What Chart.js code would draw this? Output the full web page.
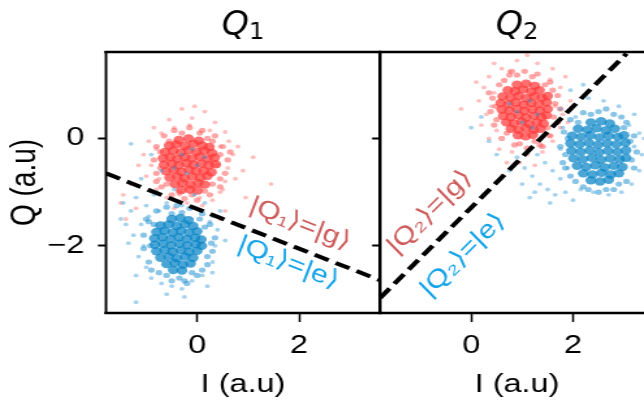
<!DOCTYPE html>
<html lang="en">
<head>
<meta charset="UTF-8">
<title>IQ readout</title>
<script src="https://cdn.jsdelivr.net/npm/chart.js"></script>
<style>
  html, body { margin: 0; padding: 0; background: #fff; overflow: hidden; }
  #wrap { position: relative; width: 644px; height: 402px; overflow: hidden; }
  /* the reference figure is stretched sideways, so the canvases are too */
  .panel { position: absolute; top: 0; transform: scaleX(1.3); transform-origin: 0 0; }
  #p1 { left: 0; }
  #p2 { left: 367px; }
</style>
</head>
<body>
<div id="wrap">
  <div class="panel" id="p1"><canvas id="q1" width="300" height="402"></canvas></div>
  <div class="panel" id="p2"><canvas id="q2" width="226" height="402"></canvas></div>
</div>
<script>
var S = 1.3; // horizontal stretch of the canvases (same as the css)

// shared axes
var xRange = [-1.79, 3.59];
var yRange = [-3.25, 1.61];
var xTicks = [0, 2];
var yTicks = [-2, 0];
var stateNames = ['g', 'e'];

// ---- Q1 panel ----
var q1Boundary = [[-1.79, -0.65], [3.59, -2.64]];
var q1LabelPos = [[2.02, -1.59], [1.79, -2.32]];
var q1GroundCore = [
  [-0.36,-0.03],[-0.17,0.0],[0.03,-0.04],
  [-0.55,-0.13],[-0.41,-0.11],[-0.24,-0.14],[-0.07,-0.1],[0.1,-0.13],[0.24,-0.16],
  [-0.63,-0.25],[-0.47,-0.23],[-0.32,-0.26],[-0.17,-0.22],[-0.01,-0.25],[0.14,-0.23],[0.29,-0.27],
  [-0.67,-0.37],[-0.53,-0.35],[-0.39,-0.38],[-0.24,-0.35],[-0.1,-0.37],[0.05,-0.34],[0.2,-0.38],[0.34,-0.36],
  [-0.65,-0.49],[-0.5,-0.47],[-0.36,-0.5],[-0.21,-0.46],[-0.07,-0.49],[0.08,-0.47],[0.23,-0.5],[0.36,-0.48],
  [-0.61,-0.61],[-0.46,-0.59],[-0.31,-0.62],[-0.16,-0.58],[-0.02,-0.61],[0.13,-0.6],[0.28,-0.63],
  [-0.54,-0.73],[-0.39,-0.71],[-0.25,-0.74],[-0.1,-0.71],[0.06,-0.73],[0.2,-0.7],
  [-0.44,-0.85],[-0.29,-0.83],[-0.13,-0.86],[0.02,-0.83],[0.15,-0.86],
  [-0.31,-0.96],[-0.14,-0.95],[0.01,-0.97]
];
var q1GroundMid = [
  [-0.15,0.2],[0.1,0.15],[0.35,0.05],[0.5,-0.15],[0.6,-0.4],[0.55,-0.65],[0.45,-0.9],[0.25,-1.05],
  [0.0,-1.15],[-0.25,-1.12],[-0.5,-1.05],[-0.7,-0.9],[-0.8,-0.65],[-0.85,-0.4],[-0.8,-0.15],[-0.65,0.05],
  [-0.45,0.15],[-0.3,0.1],[0.2,0.0],[0.45,-0.3],[0.45,-0.75],[0.15,-0.98],[-0.35,-1.0],[-0.72,-0.55],
  [-0.72,-0.25],[-0.55,-0.05],[0.05,0.1],[0.4,-0.5],[-0.1,-1.05],[-0.6,-0.85],[0.3,-0.05],[-0.8,-0.8],
  [0.65,-0.25],[0.3,-0.85]
];
var q1GroundHalo = [
  [-0.3,0.55],[0.15,0.5],[-0.55,0.35],[-0.1,0.38],[0.35,0.3],[-0.85,0.2],[0.55,0.12],[-0.95,-0.05],
  [0.62,-0.05],[-1.05,-0.3],[0.7,-0.3],[1.1,-0.35],[-0.9,-0.5],[0.6,-0.55],[0.9,-0.6],[-1.0,-0.7],
  [0.55,-0.8],[-0.8,-0.95],[0.45,-1.0],[-0.6,-1.1],[0.3,-1.15],[-0.2,-1.2],[0.1,-1.25],[-0.45,-1.3],
  [0.55,-1.35],[-1.3,-0.85],[-1.45,-1.05],[-0.7,0.1],[0.25,0.15],[-0.45,0.2],[0.45,-0.15],[-0.8,-0.2],
  [0.5,-0.95],[-0.75,-0.75],[0.8,-0.15],[-0.15,0.25],[0.05,-1.1],[-0.35,-1.05],[0.75,-0.75],[-1.15,-0.5],
  [1.45,-0.85],[-1.2,-1.3],[0.95,-1.1],[-0.05,0.6],[-1.5,-1.2],[-1.4,-1.5],[0.45,-1.5]
];
var q1ExcitedCore = [
  [-0.5,-1.5],[-0.33,-1.48],[-0.17,-1.52],
  [-0.72,-1.62],[-0.56,-1.6],[-0.4,-1.63],[-0.24,-1.6],[-0.08,-1.63],
  [-0.8,-1.74],[-0.64,-1.72],[-0.48,-1.75],[-0.32,-1.72],[-0.16,-1.75],[0.0,-1.73],
  [-0.84,-1.86],[-0.68,-1.84],[-0.52,-1.87],[-0.36,-1.84],[-0.2,-1.87],[-0.04,-1.85],[0.08,-1.88],
  [-0.83,-1.98],[-0.67,-1.96],[-0.51,-1.99],[-0.35,-1.96],[-0.19,-1.99],[-0.03,-1.97],[0.09,-2.0],
  [-0.8,-2.1],[-0.64,-2.08],[-0.48,-2.11],[-0.32,-2.08],[-0.16,-2.11],[0.0,-2.09],
  [-0.72,-2.22],[-0.56,-2.2],[-0.4,-2.23],[-0.24,-2.2],[-0.08,-2.22],
  [-0.6,-2.34],[-0.44,-2.32],[-0.28,-2.35],[-0.13,-2.33],
  [-0.47,-2.45],[-0.3,-2.46]
];
var q1ExcitedMid = [
  [-0.4,-1.25],[-0.15,-1.3],[0.1,-1.4],[0.25,-1.6],[0.35,-1.85],[0.3,-2.1],[0.2,-2.35],[0.0,-2.55],
  [-0.25,-2.65],[-0.5,-2.65],[-0.75,-2.5],[-0.95,-2.3],[-1.05,-2.05],[-1.05,-1.8],[-0.95,-1.55],[-0.8,-1.35],
  [-0.6,-1.28],[-0.3,-1.38],[0.15,-1.65],[0.2,-2.2],[-0.1,-2.5],[-0.6,-2.55],[-0.92,-2.0],[-0.85,-1.6],
  [-0.5,-1.4],[0.05,-1.5],[-0.35,-2.6],[-0.9,-2.45],[0.28,-1.95],[-1.0,-1.5],[-0.2,-2.7],[0.1,-2.45]
];
var q1ExcitedHalo = [
  [-1.45,-1.2],[-1.3,-1.35],[-1.5,-1.5],[-1.2,-1.1],[-1.0,-1.25],[-0.85,-1.05],[-0.6,-1.2],[-0.3,-1.25],
  [-0.1,-1.3],[0.1,-1.35],[0.3,-1.45],[-1.1,-1.6],[-1.25,-1.8],[-1.05,-2.0],[-1.15,-2.2],[-1.0,-2.4],
  [-0.9,-2.6],[-0.7,-2.7],[-0.5,-2.75],[-0.3,-2.8],[-0.1,-2.65],[0.1,-2.55],[0.3,-2.3],[0.35,-2.0],
  [0.4,-1.7],[0.25,-1.55],[-0.95,-1.45],[0.45,-1.35],[-0.6,-2.9],[-0.25,-2.95],[-1.2,-2.55],[0.2,-2.75],
  [-1.35,-1.95],[-0.75,-1.35],[0.55,-1.9],[-0.45,-0.95],[-1.2,-3.05],[-0.8,-1.0],[0.15,-1.2],[-0.05,-1.05],
  [-1.4,-1.6],[0.3,-2.5],[-1.3,-0.1],[-0.9,-0.3],[-0.7,-0.6],[-1.1,-0.75],
  [-0.3,-0.3],[0.0,-0.5],[-0.2,-0.65],[0.15,-0.35],[-0.45,-0.55],[-0.1,-0.2]
];

// ---- Q2 panel ----
var q2Boundary = [[-1.79, -2.97], [3.05, 1.58]];
var q2LabelPos = [[-0.81, -1.37], [-0.16, -2.17]];
var q2GroundCore = [
  [0.9,1.0],[1.08,1.02],[1.25,0.98],
  [0.72,0.9],[0.86,0.88],[1.02,0.91],[1.18,0.87],[1.34,0.9],
  [0.62,0.78],[0.77,0.76],[0.93,0.79],[1.08,0.75],[1.24,0.78],[1.39,0.76],[1.5,0.79],
  [0.58,0.66],[0.73,0.64],[0.88,0.67],[1.03,0.63],[1.18,0.66],[1.33,0.64],[1.48,0.67],
  [0.6,0.54],[0.75,0.52],[0.9,0.55],[1.05,0.51],[1.2,0.54],[1.35,0.52],[1.5,0.55],
  [0.63,0.42],[0.78,0.4],[0.93,0.43],[1.08,0.39],[1.23,0.42],[1.38,0.4],[1.48,0.43],
  [0.69,0.3],[0.84,0.28],[0.99,0.31],[1.14,0.27],[1.29,0.3],[1.42,0.28],
  [0.78,0.18],[0.93,0.16],[1.08,0.19],[1.23,0.16],[1.36,0.18],
  [0.92,0.06],[1.07,0.04],[1.21,0.07]
];
var q2GroundMid = [
  [1.05,1.25],[1.3,1.2],[1.55,1.05],[1.7,0.8],[1.75,0.55],[1.7,0.3],[1.55,0.05],[1.35,-0.12],
  [1.1,-0.18],[0.85,-0.12],[0.6,0.0],[0.45,0.25],[0.38,0.5],[0.42,0.75],[0.55,1.0],[0.75,1.18],
  [0.9,1.18],[1.45,1.0],[1.62,0.4],[1.25,-0.05],[0.7,0.1],[0.48,0.6],[0.65,1.08],[1.2,1.15],
  [1.65,0.65],[0.95,-0.1],[0.5,0.35],[1.5,0.2],[0.8,1.25],[1.6,0.9],[0.35,0.85],[1.4,-0.15]
];
var q2GroundHalo = [
  [0.9,1.45],[1.3,1.4],[0.6,1.3],[1.6,1.3],[0.35,1.15],[1.85,1.15],[0.25,0.95],[1.75,0.95],
  [0.15,0.7],[1.95,0.7],[-0.2,0.55],[0.3,0.45],[1.8,0.45],[0.2,0.25],[1.75,0.2],[0.35,0.0],
  [1.6,-0.05],[0.55,-0.2],[0.8,-0.25],[1.1,-0.3],[1.4,-0.25],[0.7,-0.45],[1.25,-0.5],[0.45,1.4],
  [1.1,1.55],[0.45,0.85],[1.65,0.6],[0.4,0.6],[1.55,1.1],[0.75,1.25],[0.5,0.15],[1.55,0.05],
  [0.95,-0.45],[1.9,0.3],[0.1,1.05]
];
var q2ExcitedCore = [
  [2.35,0.3],[2.55,0.32],[2.72,0.28],
  [2.1,0.18],[2.28,0.16],[2.46,0.19],[2.64,0.15],[2.82,0.18],
  [1.98,0.05],[2.16,0.03],[2.34,0.06],[2.52,0.02],[2.7,0.05],[2.88,0.03],[3.0,0.06],
  [1.95,-0.09],[2.13,-0.11],[2.31,-0.08],[2.49,-0.12],[2.67,-0.09],[2.85,-0.11],[3.03,-0.08],
  [1.97,-0.23],[2.15,-0.25],[2.33,-0.22],[2.51,-0.26],[2.69,-0.23],[2.87,-0.25],[3.04,-0.22],
  [2.01,-0.37],[2.19,-0.39],[2.37,-0.36],[2.55,-0.4],[2.73,-0.37],[2.91,-0.39],[3.04,-0.36],
  [2.08,-0.51],[2.26,-0.53],[2.44,-0.5],[2.62,-0.54],[2.8,-0.51],[2.97,-0.53],
  [2.2,-0.65],[2.38,-0.67],[2.56,-0.64],[2.74,-0.67],[2.9,-0.65],
  [2.35,-0.78],[2.53,-0.8],[2.7,-0.77]
];
var q2ExcitedMid = [
  [2.5,0.5],[2.8,0.45],[3.05,0.3],[3.2,0.05],[3.25,-0.25],[3.2,-0.55],[3.05,-0.8],[2.8,-0.95],
  [2.5,-1.0],[2.2,-0.9],[1.95,-0.7],[1.8,-0.45],[1.75,-0.15],[1.82,0.12],[1.95,0.35],[2.2,0.48],
  [2.35,0.45],[2.95,0.4],[3.15,-0.4],[2.65,-0.95],[2.05,-0.8],[1.85,-0.3],[2.1,0.3],[3.12,-0.05],
  [2.9,-0.85],[2.3,-0.95],[1.9,0.0],[2.65,0.55],[3.0,0.2],[1.85,-0.55]
];
var q2ExcitedHalo = [
  [1.75,0.55],[2.0,0.6],[2.3,0.75],[2.6,0.7],[2.9,0.6],[3.2,0.45],[3.3,0.1],[3.35,-0.3],
  [3.3,-0.6],[3.15,-0.85],[2.95,-1.0],[2.7,-1.05],[2.4,-1.0],[2.15,-0.95],[1.8,0.2],[1.75,-0.2],
  [3.2,-0.15],[2.05,0.4],[3.1,0.25],[3.4,0.0],
  [0.9,-0.35],[1.05,-0.55],[1.2,-0.7],[1.35,-0.85],[1.5,-0.95],[1.65,-1.05],[1.85,-1.0],[1.6,-0.6],
  [1.45,-0.45],[1.25,-1.0],[1.0,-0.85],[1.75,-0.75],[1.9,-0.55],[1.3,-0.3],[1.55,-1.2],[2.0,-1.15],
  [0.75,-0.6],[1.15,-1.1],
  [0.9,0.5],[1.15,0.7],[1.0,0.3],[1.3,0.45],[0.75,0.65],[1.2,0.2],
  [0.2,0.4],[0.0,0.2],[0.35,-0.05],[0.5,-0.3],[1.95,0.9],[2.2,1.0]
];

var labelColors = ['#cd5c5c', '#12a3e8'];
var tickFont = { family: '"Liberation Sans", Arial, sans-serif', size: 25 };
var yTitleFont = { family: '"Liberation Sans", Arial, sans-serif', size: 28 };

function fmtTick(v) {
  return v < 0 ? '\u2212' + Math.abs(v) : String(v);
}

function makePanel(id, p) {
  // frame, title and state labels drawn on top of the plot
  var decor = {
    id: 'decor' + id,
    afterDraw: function (chart) {
      var ctx = chart.ctx, a = chart.chartArea;
      var sx = chart.scales.x, sy = chart.scales.y;
      var ln = p.line;
      // angle of the boundary as it looks on the page (after the stretch)
      var ang = Math.atan2(sy.getPixelForValue(ln[1][1]) - sy.getPixelForValue(ln[0][1]),
                           (sx.getPixelForValue(ln[1][0]) - sx.getPixelForValue(ln[0][0])) * S);
      ctx.save();
      for (var i = 0; i < 2; i++) {
        ctx.save();
        ctx.translate(sx.getPixelForValue(p.labelPos[i][0]), sy.getPixelForValue(p.labelPos[i][1]));
        ctx.scale(1 / S, 1);
        ctx.rotate(ang);
        ctx.scale(1.2, 1);
        ctx.font = '25px "Liberation Sans", "DejaVu Sans", sans-serif';
        ctx.fillStyle = labelColors[i];
        ctx.textAlign = 'center';
        ctx.textBaseline = 'middle';
        ctx.fillText('|Q' + p.subGlyph + '\u27E9=|' + stateNames[i] + '\u27E9', 0, 0);
        ctx.restore();
      }
      ctx.strokeStyle = '#000';
      ctx.lineCap = 'square';
      ctx.lineWidth = 2.5;
      ctx.beginPath();
      ctx.moveTo(a.left, a.top); ctx.lineTo(a.right, a.top);
      ctx.moveTo(a.left, a.bottom); ctx.lineTo(a.right, a.bottom);
      ctx.stroke();
      ctx.lineWidth = 2.5 / S;
      ctx.beginPath();
      ctx.moveTo(a.left, a.top); ctx.lineTo(a.left, a.bottom);
      ctx.moveTo(a.right, a.top); ctx.lineTo(a.right, a.bottom);
      ctx.stroke();

      // panel title Q with subscript
      ctx.save();
      ctx.translate((a.left + a.right) / 2, 0);
      ctx.scale(1.05 / S, 1);
      ctx.fillStyle = '#000';
      ctx.textAlign = 'left';
      ctx.textBaseline = 'alphabetic';
      ctx.font = 'italic 33px "DejaVu Sans"';
      var wq = ctx.measureText('Q').width;
      ctx.font = '23px "DejaVu Sans"';
      var ws = ctx.measureText(p.sub).width;
      var x0 = -(wq + ws) / 2;
      ctx.font = 'italic 33px "DejaVu Sans"';
      ctx.fillText('Q', x0, 35);
      ctx.font = '23px "DejaVu Sans"';
      ctx.fillText(p.sub, x0 + wq, 39);
      ctx.restore();
      ctx.restore();
    }
  };

  return new Chart(document.getElementById(id), {
    type: 'scatter',
    data: {
      datasets: [
        { data: p.line, showLine: true, borderColor: '#000', borderWidth: 4, borderDash: [12, 6], pointRadius: 0, order: 0 },
        { data: p.eHalo, pointRadius: 1.9, backgroundColor: 'rgba(40,150,212,0.42)', borderWidth: 0, order: 1 },
        { data: p.eMid, pointRadius: 2.6, backgroundColor: 'rgba(20,140,205,0.5)', borderWidth: 0, order: 2 },
        { data: p.eCore, pointRadius: 4.2, backgroundColor: 'rgba(5,132,198,0.72)', borderWidth: 0, order: 3 },
        { data: p.gHalo, pointRadius: 1.9, backgroundColor: 'rgba(255,95,95,0.4)', borderWidth: 0, order: 4 },
        { data: p.gMid, pointRadius: 2.6, backgroundColor: 'rgba(255,75,75,0.5)', borderWidth: 0, order: 5 },
        { data: p.gCore, pointRadius: 4.2, backgroundColor: 'rgba(255,55,55,0.72)', borderWidth: 0, order: 6 }
      ]
    },
    options: {
      responsive: false,
      animation: false,
      events: [],
      layout: { padding: { top: 52, right: p.padRight, left: 0, bottom: 0 } },
      plugins: { legend: { display: false }, tooltip: { enabled: false } },
      scales: {
        x: {
          type: 'linear', min: xRange[0], max: xRange[1],
          afterBuildTicks: function (s) { s.ticks = xTicks.map(function (v) { return { value: v }; }); },
          afterFit: function (s) { s.height = 89; },
          grid: { drawOnChartArea: false, drawTicks: true, tickLength: 9, tickWidth: 2 / S, tickColor: '#000' },
          border: { display: false },
          ticks: { color: '#000', font: tickFont, padding: 9, maxRotation: 0, callback: fmtTick },
          title: { display: true, text: 'I (a.u)', color: '#000', font: tickFont, padding: { top: 0, bottom: 2 } }
        },
        y: {
          type: 'linear', min: yRange[0], max: yRange[1],
          afterBuildTicks: function (s) { s.ticks = yTicks.map(function (v) { return { value: v }; }); },
          afterFit: function (s) { s.width = p.yWidth; },
          grid: { drawOnChartArea: false, drawTicks: true, tickLength: 8 / S, tickWidth: 2, tickColor: '#000' },
          border: { display: false },
          ticks: { display: p.showY, color: '#000', font: tickFont, padding: 10.5, callback: fmtTick },
          title: { display: p.showY, text: 'Q (a.u)', color: '#000', font: yTitleFont, padding: { top: 2.5, bottom: 0 } }
        }
      }
    },
    plugins: [decor]
  });
}

makePanel('q1', {
  line: q1Boundary, labelPos: q1LabelPos, sub: '1', subGlyph: '\u2081',
  gCore: q1GroundCore, gMid: q1GroundMid, gHalo: q1GroundHalo,
  eCore: q1ExcitedCore, eMid: q1ExcitedMid, eHalo: q1ExcitedHalo,
  yWidth: 106 / S, padRight: 300 - 380 / S, showY: true
});
makePanel('q2', {
  line: q2Boundary, labelPos: q2LabelPos, sub: '2', subGlyph: '\u2082',
  gCore: q2GroundCore, gMid: q2GroundMid, gHalo: q2GroundHalo,
  eCore: q2ExcitedCore, eMid: q2ExcitedMid, eHalo: q2ExcitedHalo,
  yWidth: (380 - 367) / S, padRight: 226 - (654 - 367) / S, showY: false
});
</script>
</body>
</html>
